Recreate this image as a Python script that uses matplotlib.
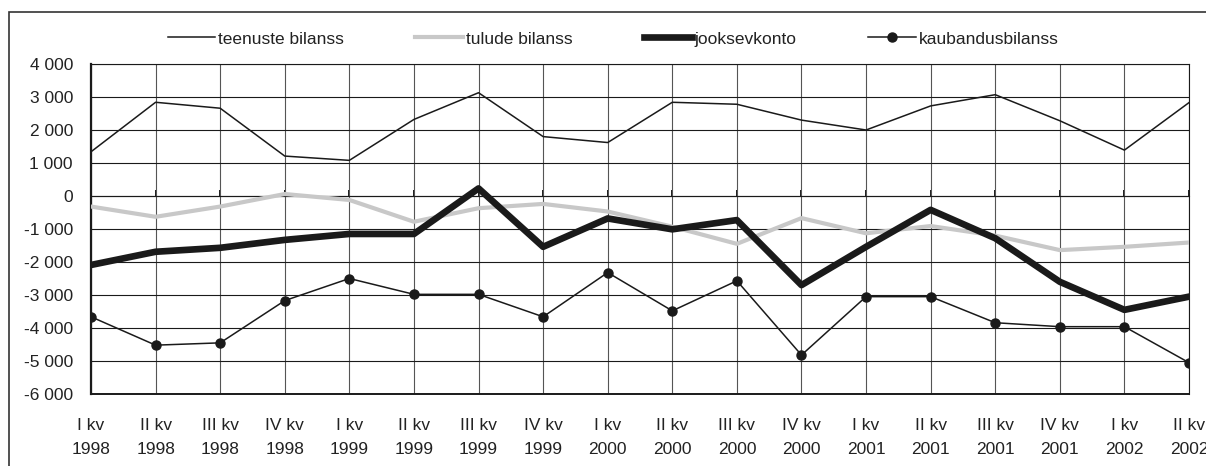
import matplotlib
matplotlib.use("Agg")
import matplotlib.pyplot as plt
from matplotlib.patches import Rectangle
from matplotlib.ticker import FuncFormatter
import numpy as np

plt.rcParams['font.family'] = ['Liberation Sans', 'DejaVu Sans']

quarters = ["I kv\n1998", "II kv\n1998", "III kv\n1998", "IV kv\n1998",
            "I kv\n1999", "II kv\n1999", "III kv\n1999", "IV kv\n1999",
            "I kv\n2000", "II kv\n2000", "III kv\n2000", "IV kv\n2000",
            "I kv\n2001", "II kv\n2001", "III kv\n2001", "IV kv\n2001",
            "I kv\n2002", "II kv\n2002"]

teenuste = [1340, 2840, 2660, 1210, 1080, 2320, 3130, 1800, 1620,
            2840, 2780, 2300, 2000, 2730, 3070, 2280, 1390, 2830]
tulude = [-320, -630, -320, 60, -120, -780, -370, -240, -470,
          -930, -1450, -670, -1130, -910, -1200, -1640, -1540, -1410]
jooksev = [-2090, -1690, -1570, -1330, -1150, -1150, 230, -1540, -680,
           -1010, -730, -2700, -1540, -420, -1280, -2600, -3450, -3050]
kaubandus = [-3660, -4520, -4450, -3170, -2500, -2980, -2980, -3660, -2320,
             -3480, -2570, -4820, -3050, -3050, -3840, -3960, -3960, -5050]

txt = '#222222'
fs = 12.5
fig = plt.figure(figsize=(12.06, 4.66), dpi=100)
ax = fig.add_axes([91/1206, 1-394/466, (1189-91)/1206, (394-64)/466])

x = np.arange(len(quarters))
ax.plot(x, teenuste, color='#1a1a1a', lw=1.1, label='teenuste bilanss', zorder=3)
ax.plot(x, tulude, color='#c8c8c8', lw=3.0, label='tulude bilanss', zorder=3)
ax.plot(x, jooksev, color='#1a1a1a', lw=4.8, label='jooksevkonto', zorder=4)
ax.plot(x, kaubandus, color='#1a1a1a', lw=1.1, marker='o', markersize=6.5,
        label='kaubandusbilanss', zorder=5)

ax.set_xlim(0, len(quarters) - 1)
ax.set_ylim(-6000, 4000)
ax.set_yticks(np.arange(-6000, 4001, 1000))
ax.yaxis.set_major_formatter(FuncFormatter(
    lambda v, p: format(int(v), ',').replace(',', ' ')))
ax.set_xticks(x)
ax.set_xticklabels(quarters, linespacing=1.75)
ax.tick_params(axis='both', length=0, labelsize=fs, labelcolor=txt)
ax.tick_params(axis='x', pad=17)
ax.tick_params(axis='y', pad=13)
ax.grid(True, axis='y', color='#1a1a1a', lw=0.8)
ax.grid(True, axis='x', color='#555555', lw=0.8)
for s in ax.spines.values():
    s.set_color('#1a1a1a')
    s.set_linewidth(0.8)
ax.spines['left'].set_linewidth(1.6)
ax.spines['bottom'].set_linewidth(1.4)

# small tick marks on the zero line
sec = ax.secondary_xaxis(0.6)
sec.set_xticks(x)
sec.set_xticklabels([])
sec.tick_params(length=4, width=1.4, color='#1a1a1a', direction='out')
sec.spines['bottom'].set_visible(False)

fig.legend(loc='center', bbox_to_anchor=(613/1206, 1-39/466), ncol=4, frameon=False,
           fontsize=fs, handlelength=2.75, handletextpad=0.17,
           columnspacing=4.1, labelcolor=txt)

fig.patches.append(Rectangle((9/1206, -0.1), 1.2, 1-12/466+0.1,
                             transform=fig.transFigure, fill=False,
                             edgecolor='#333333', lw=1.2))

fig.savefig('out.png', dpi=100)
